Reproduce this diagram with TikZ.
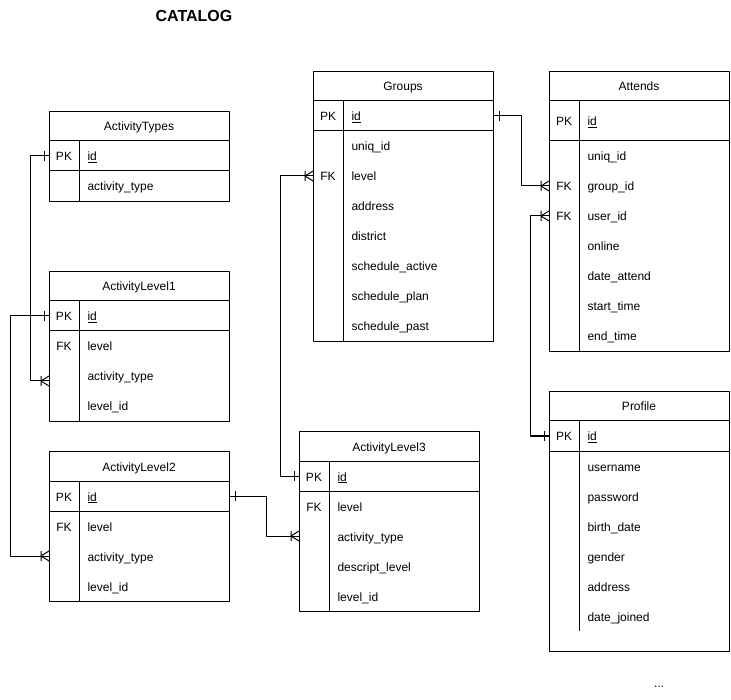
\documentclass[tikz,border=0pt]{standalone}
\usepackage{fontspec}
\setmainfont{Liberation Sans}
\usetikzlibrary{positioning}
\tikzset{
  tbl/.style={draw, anchor=north west, minimum width=180pt, inner sep=0pt},
  hdr/.style={inner sep=0pt, text height=11pt, text depth=1pt},
  key/.style={hdr},
  fld/.style={hdr, anchor=west},
  one/.pic={\draw (-5,-5) -- (-5,5);},
  many/.pic={\draw (-8,-5) -- (-8,5) (0,-5) -- (-8,0) -- (0,5);}
}
\begin{document}
\begin{tikzpicture}[x=1pt, y=-1pt, line width=1pt, font=\fontsize{12}{14}\selectfont, line join=round]
\useasboundingbox (0,0) rectangle (731,700);
\node[font=\bfseries\fontsize{16}{19}\selectfont] (title) at (194,16) {CATALOG};
% tables
\foreach \n/\x/\y/\h/\p/\d/\t in {AT/49/111/90/30/60/ActivityTypes, AL1/49/271/150/30/120/ActivityLevel1, AL2/49/451/150/30/120/ActivityLevel2, AL3/299/431/180/30/150/ActivityLevel3, GR/313/71/270/30/240/Groups, AD/549/71/280/40/250/Attends, PR/549/391/260/30/210/Profile}{
  \node[tbl, minimum height=\h pt] (\n) at (\x,\y) {};
  \node[hdr] at ({\x+90},{\y+15}) {\t};
  \draw (\x,{\y+30}) -- ++(180,0) (\x,{\y+30+\p}) -- ++(180,0) ({\x+30},{\y+30}) -- ++(0,\d);
}
% rows
\foreach \k/\f [count=\i] in {PK/\underline{id}, /activity\_type}
  \path (64,{126+30*\i}) node[key]{\k} (87,{126+30*\i}) node[fld] (AT-\i) {\f};
\foreach \k/\f [count=\i] in {PK/\underline{id}, FK/level, /activity\_type, /level\_id}
  \path (64,{286+30*\i}) node[key]{\k} (87,{286+30*\i}) node[fld] (AL1-\i) {\f};
\foreach \k/\f [count=\i] in {PK/\underline{id}, FK/level, /activity\_type, /level\_id}
  \path (64,{466+30*\i}) node[key]{\k} (87,{466+30*\i}) node[fld] (AL2-\i) {\f};
\foreach \k/\f [count=\i] in {PK/\underline{id}, FK/level, /activity\_type, /descript\_level, /level\_id}
  \path (314,{446+30*\i}) node[key]{\k} (337,{446+30*\i}) node[fld] (AL3-\i) {\f};
\foreach \k/\f [count=\i] in {PK/\underline{id}, /uniq\_id, FK/level, /address, /district, /schedule\_active, /schedule\_plan, /schedule\_past}
  \path (328,{86+30*\i}) node[key]{\k} (351,{86+30*\i}) node[fld] (GR-\i) {\f};
\foreach \k/\f [count=\i] in {PK/\underline{id}, /uniq\_id, FK/group\_id, FK/user\_id, /online, /date\_attend, /start\_time, /end\_time}
  \path (564,{96+30*\i-5*(\i==1)}) node[key]{\k} (587,{96+30*\i-5*(\i==1)}) node[fld] (AD-\i) {\f};
\foreach \k/\f [count=\i] in {PK/\underline{id}, /username, /password, /birth\_date, /gender, /address, /date\_joined}
  \path (564,{406+30*\i}) node[key]{\k} (587,{406+30*\i}) node[fld] (PR-\i) {\f};
% relations
\draw (AT.west |- AT-1) -- ++(-19,0) |- (AL1.west |- AL1-3.base);
\draw (AL1.west |- AL1-1) -- ++(-39,0) |- (AL2.west |- AL2-3);
\draw (AL2.east |- AL2-1) -- ++(36,0) |- (AL3.west |- AL3-3);
\draw (AL3.west |- AL3-1) -- ++(-19,0) |- (GR.west |- GR-3);
\draw (GR.east |- GR-1) -- ++(27,0) |- (AD.west |- AD-3);
\draw (PR.west |- PR-1) -- ++(-19,0) |- (AD.west |- AD-4);
\path (AT.west |- AT-1) pic{one} (AL1.west |- AL1-3.base) pic{many}
  (AL1.west |- AL1-1) pic{one} (AL2.west |- AL2-3) pic{many}
  (AL2.east |- AL2-1) pic[rotate=180]{one} (AL3.west |- AL3-3) pic{many}
  (AL3.west |- AL3-1) pic{one} (GR.west |- GR-3) pic{many}
  (GR.east |- GR-1) pic[rotate=180]{one} (AD.west |- AD-3) pic{many}
  (PR.west |- PR-1) pic{one} (AD.west |- AD-4) pic{many};
\node[anchor=base] (more) at (659,687) {...};
\end{tikzpicture}
\end{document}
